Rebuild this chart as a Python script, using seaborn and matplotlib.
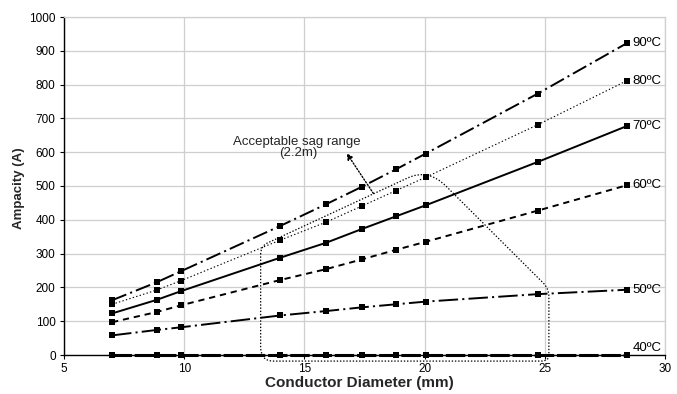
import matplotlib
matplotlib.use("Agg")
import matplotlib.pyplot as plt
import seaborn as sns
import pandas as pd
from matplotlib.path import Path
from matplotlib.patches import PathPatch

# ---- data ----
diameter = [7.0, 8.85, 9.87, 14.0, 15.9, 17.4, 18.8, 20.05, 24.7, 28.4]
amp_90 = [162, 215, 248, 382, 446, 498, 549, 596, 773, 922]
amp_80 = [150, 192, 220, 340, 393, 441, 486, 526, 681, 811]
amp_70 = [123, 163, 189, 288, 332, 373, 410, 443, 571, 677]
amp_60 = [97, 127, 147, 222, 254, 283, 311, 335, 427, 502]
amp_50 = [58, 74, 82, 117, 130, 141, 150, 158, 180, 193]
amp_40 = [0, 0, 0, 0, 0, 0, 0, 0, 0, 0]
series_labels = ["90ºC", "80ºC", "70ºC", "60ºC", "50ºC", "40ºC"]
series_values = [amp_90, amp_80, amp_70, amp_60, amp_50, amp_40]
x_ticks = [5, 10, 15, 20, 25, 30]
y_ticks = [0, 100, 200, 300, 400, 500, 600, 700, 800, 900, 1000]

sns.set_style("whitegrid")
plt.rcParams["font.family"] = ["Liberation Sans", "DejaVu Sans"]
plt.rcParams["lines.scale_dashes"] = False

fig = plt.figure(figsize=(6.77, 3.94), dpi=100)
ax = fig.add_axes([64 / 677, 39 / 394, 601 / 677, 338 / 394])

line_styles = {
    "90ºC": dict(linestyle=(0, (11, 3, 1.5, 3)), linewidth=1.4),
    "80ºC": dict(linestyle=(0, (1, 1.6)), linewidth=0.8),
    "70ºC": dict(linestyle="-", linewidth=1.4),
    "60ºC": dict(linestyle=(0, (4.5, 3.5)), linewidth=1.4),
    "50ºC": dict(linestyle=(0, (14, 3, 1.5, 3)), linewidth=1.4),
    "40ºC": dict(linestyle=(0, (14, 2)), linewidth=2.2),
}
label_offsets = {"40ºC": 22}

for lab, vals in zip(series_labels, series_values):
    df = pd.DataFrame({"d": diameter, "a": vals})
    sns.lineplot(data=df, x="d", y="a", ax=ax, color="black", marker="s",
                 markersize=4.2, markeredgewidth=0, markerfacecolor="black",
                 clip_on=False, zorder=3, **line_styles[lab])
    ax.text(diameter[-1] + 0.25, vals[-1] + label_offsets.get(lab, 0), lab,
            ha="left", va="center", fontsize=9.5, color="black")

# acceptable sag range outline
verts = [
    (13.18, 298),
    (13.18, 322), (13.45, 331),
    (19.3, 524),
    (20.16, 552), (20.9, 499),
    (24.95, 212),
    (25.17, 196), (25.17, 172),
    (25.17, 0),
    (25.17, -18), (24.85, -18),
    (13.7, -18),
    (13.18, -18), (13.18, 25),
    (13.18, 298),
]
codes = [Path.MOVETO,
         Path.CURVE3, Path.CURVE3,
         Path.LINETO,
         Path.CURVE3, Path.CURVE3,
         Path.LINETO,
         Path.CURVE3, Path.CURVE3,
         Path.LINETO,
         Path.CURVE3, Path.CURVE3,
         Path.LINETO,
         Path.CURVE3, Path.CURVE3,
         Path.LINETO]
patch = PathPatch(Path(verts, codes), facecolor="none", edgecolor="black",
                  linestyle=(0, (1, 1.3)), linewidth=0.9, clip_on=False, zorder=4)
ax.add_patch(patch)

ax.annotate("", xy=(16.76, 597), xytext=(17.87, 478),
            arrowprops=dict(arrowstyle="-|>", color="black", linestyle=(0, (1, 1.3)),
                            lw=1.0, mutation_scale=9, shrinkA=0, shrinkB=0))
ax.text(14.68, 631, "Acceptable sag range", ha="center", va="center", fontsize=9.5)
ax.text(14.75, 598, "(2.2m)", ha="center", va="center", fontsize=9.5)

ax.set_xlim(5, 30)
ax.set_ylim(0, 1000)
ax.set_xticks(x_ticks)
ax.set_yticks(y_ticks)
ax.grid(True, color="#cfcfcf", linewidth=0.9)
for s in ["top", "right"]:
    ax.spines[s].set_color("#cfcfcf")
    ax.spines[s].set_linewidth(0.9)
for s in ["left", "bottom"]:
    ax.spines[s].set_color("black")
    ax.spines[s].set_linewidth(1.0)
ax.tick_params(axis="both", which="both", direction="out", length=3, width=0.8,
               color="black", labelsize=8.5, pad=3, bottom=True, left=True,
               labelcolor="black")
ax.set_xlabel("Conductor Diameter (mm)", fontsize=11, fontweight="bold")
ax.set_ylabel("Ampacity (A)", fontsize=9.5, fontweight="bold")
ax.xaxis.set_label_coords((359 - 64) / 601, (355 - 376) / 338)
ax.yaxis.set_label_coords((25 - 64) / 601, 0.495)

fig.savefig("out.png", dpi=100)
